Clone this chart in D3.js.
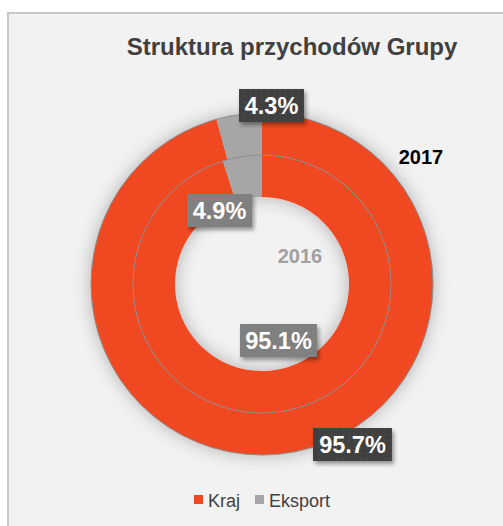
<!DOCTYPE html>
<html>
<head>
<meta charset="utf-8">
<script src="https://cdn.jsdelivr.net/npm/d3@7"></script>
<style>
  html, body { margin: 0; padding: 0; background: #ffffff; }
  svg { display: block; font-family: "Liberation Sans", Arial, sans-serif; }
</style>
</head>
<body>
<div id="chart"></div>
<script>
// data
var categories = ["Kraj", "Eksport"];
var years = ["2017", "2016"];
var values2017 = [95.7, 4.3];
var values2016 = [95.1, 4.9];
var colors = ["#f04923", "#a6a6a6"];

var W = 503, H = 526;
var cx = 262, cy = 284;
var rOuter = 171, rMid = 129, rInner = 87;

var svg = d3.select("#chart").append("svg")
  .attr("width", W)
  .attr("height", H);

var defs = svg.append("defs");

var glow = defs.append("filter")
  .attr("id", "glow")
  .attr("x", "-30%").attr("y", "-30%")
  .attr("width", "160%").attr("height", "160%");
glow.append("feDropShadow")
  .attr("dx", 0).attr("dy", 0)
  .attr("stdDeviation", 9)
  .attr("flood-color", "#000")
  .attr("flood-opacity", 0.28);

var boxShadow = defs.append("filter")
  .attr("id", "boxShadow")
  .attr("x", "-20%").attr("y", "-30%")
  .attr("width", "150%").attr("height", "180%");
boxShadow.append("feDropShadow")
  .attr("dx", 2).attr("dy", 3)
  .attr("stdDeviation", 2)
  .attr("flood-color", "#000")
  .attr("flood-opacity", 0.4);

var dots = defs.append("pattern")
  .attr("id", "dots")
  .attr("patternUnits", "userSpaceOnUse")
  .attr("width", 6).attr("height", 6);
dots.append("rect").attr("width", 6).attr("height", 6).attr("fill", "#404040");
dots.append("rect").attr("x", 2).attr("y", 2).attr("width", 1).attr("height", 1).attr("fill", "#5e5e5e");

// chart area background and frame
svg.append("rect")
  .attr("x", 8).attr("y", 13)
  .attr("width", W).attr("height", H)
  .attr("fill", "#f2f2f2")
  .attr("stroke", "#c8c8c8")
  .attr("stroke-width", 2);

svg.append("text")
  .attr("x", 292).attr("y", 55)
  .attr("text-anchor", "middle")
  .attr("font-size", "24px")
  .attr("font-weight", "bold")
  .attr("fill", "#404040")
  .text("Struktura przychodów Grupy");

var pie = d3.pie().sort(null).value(function(d) { return d; });

var g = svg.append("g")
  .attr("transform", "translate(" + cx + "," + cy + ")");

var rings = g.append("g").attr("filter", "url(#glow)");

function drawRing(values, r0, r1) {
  var arc = d3.arc().innerRadius(r0).outerRadius(r1);
  rings.append("g").selectAll("path")
    .data(pie(values))
    .enter()
    .append("path")
    .attr("d", arc)
    .attr("fill", function(d, i) { return colors[i]; });
}
drawRing(values2017, rMid, rOuter);
drawRing(values2016, rInner, rMid);

// thin grey circle edges
g.append("circle").attr("r", rOuter).attr("fill", "none").attr("stroke", "#8c8c8c").attr("stroke-width", 1);
g.append("circle").attr("r", rMid).attr("fill", "none").attr("stroke", "#8c8c8c").attr("stroke-width", 1);

// year labels
g.append("text")
  .attr("x", 159).attr("y", -120)
  .attr("text-anchor", "middle")
  .attr("font-size", "20px")
  .attr("font-weight", "bold")
  .attr("fill", "#000")
  .text(years[0]);

g.append("text")
  .attr("x", 38).attr("y", -21)
  .attr("text-anchor", "middle")
  .attr("font-size", "20px")
  .attr("font-weight", "bold")
  .attr("fill", "#a0a0a0")
  .text(years[1]);

// data labels (box centre offsets from donut centre)
var labels = [
  { v: values2017[0], dx: 90.5, dy: 160.5, fill: "url(#dots)", w: 79 },
  { v: values2017[1], dx: 9.5, dy: -178.5, fill: "url(#dots)", w: 65 },
  { v: values2016[0], dx: 16.5, dy: 56.5, fill: "#808080", w: 77 },
  { v: values2016[1], dx: -42.5, dy: -73.5, fill: "#808080", w: 65 }
];

var lab = g.selectAll(".lab")
  .data(labels)
  .enter()
  .append("g")
  .attr("class", "lab")
  .attr("transform", function(d) { return "translate(" + d.dx + "," + d.dy + ")"; });

lab.append("rect")
  .attr("x", function(d) { return -d.w / 2; })
  .attr("y", -16.5)
  .attr("width", function(d) { return d.w; })
  .attr("height", 33)
  .attr("fill", function(d) { return d.fill; })
  .attr("filter", "url(#boxShadow)");

lab.append("text")
  .attr("text-anchor", "middle")
  .attr("y", 8.5)
  .attr("font-size", "23.5px")
  .attr("font-weight", "bold")
  .attr("fill", "#ffffff")
  .text(function(d) { return d.v.toFixed(1) + "%"; });

// legend
var legend = svg.append("g").attr("transform", "translate(194,507)");
var legX = [0, 61];
var item = legend.selectAll("g")
  .data(categories)
  .enter()
  .append("g")
  .attr("transform", function(d, i) { return "translate(" + legX[i] + ",0)"; });
item.append("rect")
  .attr("x", 0).attr("y", -12)
  .attr("width", 9).attr("height", 9)
  .attr("fill", function(d, i) { return colors[i]; });
item.append("text")
  .attr("x", 14).attr("y", 0)
  .attr("font-size", "18px")
  .attr("fill", "#404040")
  .text(function(d) { return d; });
</script>
</body>
</html>
